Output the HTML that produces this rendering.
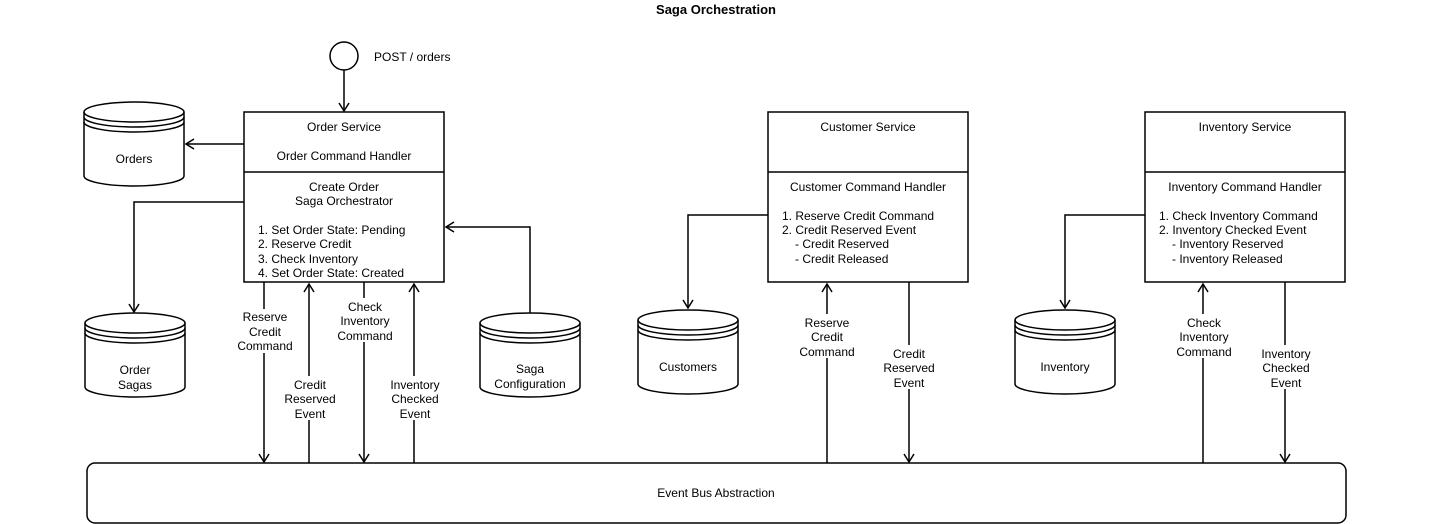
<!DOCTYPE html>
<html><head><meta charset="utf-8"><style>
html,body{margin:0;padding:0;background:#fff;}
svg{display:block;}
text{font-family:"Liberation Sans",Arial,sans-serif;font-size:12px;fill:#000;}
</style></head><body>
<svg width="1432" height="524" viewBox="0 0 1432 524" xmlns="http://www.w3.org/2000/svg">
<defs>
<g id="cyl">
<path d="M0,10 A50,10 0 0 1 100,10 V74 A50,10 0 0 1 0,74 Z" fill="#fff" stroke="#000" stroke-width="1.5"/>
<path d="M0,10 A50,10 0 0 0 100,10 M0,15 A50,10 0 0 0 100,15 M0,20 A50,10 0 0 0 100,20" fill="none" stroke="#000" stroke-width="1.5"/>
</g>
</defs>
<text x="716" y="14" text-anchor="middle" style="font-weight:bold;font-size:13px">Saga Orchestration</text>

<g fill="none" stroke="#000" stroke-width="1.5">
<circle cx="344" cy="56" r="14" fill="#fff"/>
<line x1="344" y1="70" x2="344" y2="111"/>
<polyline points="339,103 344,111 349,103"/>
<!-- orders -->
<line x1="244" y1="144" x2="186" y2="144"/>
<polyline points="194,139 186,144 194,149"/>
<!-- sagas -->
<polyline points="244,202 134,202 134,312"/>
<polyline points="129,304 134,312 139,304"/>
<!-- config -->
<polyline points="530,313 530,227 446,227"/>
<polyline points="454,222 446,227 454,232"/>
<!-- order bus lines -->
<line x1="264" y1="282" x2="264" y2="462"/><polyline points="259,454 264,462 269,454"/>
<line x1="309" y1="463" x2="309" y2="284"/><polyline points="304,292 309,284 314,292"/>
<line x1="364" y1="282" x2="364" y2="462"/><polyline points="359,454 364,462 369,454"/>
<line x1="414" y1="463" x2="414" y2="284"/><polyline points="409,292 414,284 419,292"/>
<!-- customer -->
<polyline points="768,215 688,215 688,308"/><polyline points="683,300 688,308 693,300"/>
<line x1="827" y1="463" x2="827" y2="284"/><polyline points="822,292 827,284 832,292"/>
<line x1="909" y1="282" x2="909" y2="462"/><polyline points="904,454 909,462 914,454"/>
<!-- inventory -->
<polyline points="1145,215 1065,215 1065,308"/><polyline points="1060,300 1065,308 1070,300"/>
<line x1="1203" y1="463" x2="1203" y2="284"/><polyline points="1198,292 1203,284 1208,292"/>
<line x1="1285" y1="282" x2="1285" y2="462"/><polyline points="1280,454 1285,462 1290,454"/>
</g>

<!-- boxes -->
<g fill="#fff" stroke="#000" stroke-width="1.5">
<rect x="244" y="112" width="200" height="170"/><line x1="244" y1="172" x2="444" y2="172"/>
<rect x="768" y="112" width="200" height="170"/><line x1="768" y1="172" x2="968" y2="172"/>
<rect x="1145" y="112" width="200" height="170"/><line x1="1145" y1="172" x2="1345" y2="172"/>
<rect x="87" y="463" width="1259" height="60" rx="8"/>
</g>

<use href="#cyl" x="84" y="102"/>
<use href="#cyl" x="85" y="313"/>
<use href="#cyl" x="480" y="313"/>
<use href="#cyl" x="638" y="310"/>
<use href="#cyl" x="1015" y="310"/>

<!-- label backgrounds -->
<g fill="#fff">
<rect x="234" y="309" width="62" height="44"/>
<rect x="283" y="376" width="52" height="44"/>
<rect x="334" y="298" width="62" height="44"/>
<rect x="386" y="376" width="56" height="44"/>
<rect x="797" y="314" width="60" height="44"/>
<rect x="880" y="345" width="58" height="44"/>
<rect x="1173" y="314" width="60" height="44"/>
<rect x="1255" y="345" width="60" height="44"/>
</g>

<text x="374" y="61">POST / orders</text>
<g text-anchor="middle">
<text x="344" y="131">Order Service</text>
<text x="344" y="160">Order Command Handler</text>
<text x="344" y="191">Create Order</text>
<text x="344" y="205">Saga Orchestrator</text>
<text x="868" y="131">Customer Service</text>
<text x="868" y="191">Customer Command Handler</text>
<text x="1245" y="131">Inventory Service</text>
<text x="1245" y="191">Inventory Command Handler</text>

<text x="134" y="163">Orders</text>
<text x="135" y="374">Order</text><text x="135" y="389">Sagas</text>
<text x="530" y="373">Saga</text><text x="530" y="388">Configuration</text>
<text x="688" y="371">Customers</text>
<text x="1065" y="371">Inventory</text>

<text x="265" y="321">Reserve</text><text x="265" y="336">Credit</text><text x="265" y="350">Command</text>
<text x="310" y="389">Credit</text><text x="310" y="403">Reserved</text><text x="310" y="418">Event</text>
<text x="365" y="311">Check</text><text x="365" y="325">Inventory</text><text x="365" y="340">Command</text>
<text x="415" y="389">Inventory</text><text x="415" y="403">Checked</text><text x="415" y="418">Event</text>
<text x="827" y="327">Reserve</text><text x="827" y="341">Credit</text><text x="827" y="356">Command</text>
<text x="909" y="358">Credit</text><text x="909" y="372">Reserved</text><text x="909" y="387">Event</text>
<text x="1204" y="327">Check</text><text x="1204" y="341">Inventory</text><text x="1204" y="356">Command</text>
<text x="1286" y="358">Inventory</text><text x="1286" y="372">Checked</text><text x="1286" y="387">Event</text>
<text x="716" y="497">Event Bus Abstraction</text>
</g>

<text x="258" y="234">1. Set Order State: Pending</text>
<text x="258" y="248">2. Reserve Credit</text>
<text x="258" y="263">3. Check Inventory</text>
<text x="258" y="277">4. Set Order State: Created</text>

<text x="782" y="220">1. Reserve Credit Command</text>
<text x="782" y="234">2. Credit Reserved Event</text>
<text x="782" y="248">   <tspan x="795">- Credit Reserved</tspan></text>
<text x="795" y="263">- Credit Released</text>

<text x="1159" y="220">1. Check Inventory Command</text>
<text x="1159" y="234">2. Inventory Checked Event</text>
<text x="1172" y="248">- Inventory Reserved</text>
<text x="1172" y="263">- Inventory Released</text>
</svg>
</body></html>
